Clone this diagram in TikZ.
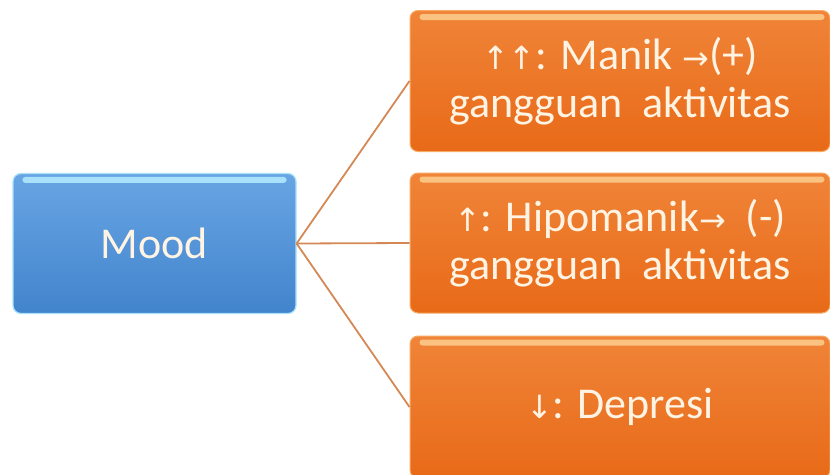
\documentclass[tikz,border=0pt]{standalone}
\usepackage{fontspec}
\setmainfont{Carlito}
\newfontfamily\arrowfont{DejaVu Sans}
\definecolor{bluetop}{RGB}{104,165,228}
\definecolor{bluebot}{RGB}{66,132,204}
\definecolor{blueshine}{RGB}{170,225,250}
\definecolor{orgtop}{RGB}{240,132,56}
\definecolor{orgbot}{RGB}{232,106,24}
\definecolor{orgshine}{RGB}{250,195,130}
\definecolor{linkcol}{RGB}{212,136,86}
\definecolor{txtcol}{RGB}{255,244,228}
\newcommand{\arr}[1]{{\arrowfont\fontsize{32}{32}\selectfont #1}}
\begin{document}
\begin{tikzpicture}[x=1pt,y=1pt,
  box/.style={rounded corners=8pt, inner sep=0pt},
  bluebox/.style={box, top color=bluetop, bottom color=bluebot, draw=blueshine, line width=1.2pt},
  orgbox/.style={box, top color=orgtop, bottom color=orgbot, draw=orgshine!60!orgtop, line width=1pt},
  label/.style={text=txtcol, align=center, font=\fontsize{44}{48}\selectfont},
  link/.style={draw=linkcol, line width=1.8pt}]
\useasboundingbox (0,0) rectangle (830,-474);
\clip (0,0) rectangle (830,-474);
% central node
\node[bluebox, minimum width=283, minimum height=140] (mood) at (154.5,-243.5) {};
% three outcomes
\node[orgbox, minimum width=420, minimum height=141] (manik) at (620,-81) {};
\node[orgbox, minimum width=420, minimum height=140] (hipo) at (620,-243) {};
\node[orgbox, minimum width=420, minimum height=142] (depresi) at (620,-407) {};
% top shine strips
\foreach \b in {manik,hipo,depresi}{
  \fill[orgshine, rounded corners=3pt] ([xshift=10pt,yshift=-4pt]\b.north west) rectangle ([xshift=-6pt,yshift=-10pt]\b.north east);
}
\fill[blueshine, rounded corners=3pt] ([xshift=10pt,yshift=-4pt]mood.north west) rectangle ([xshift=-10pt,yshift=-10pt]mood.north east);
% texts
\node[label] (t0) at (mood.center) {Mood};
\node[label] (t1) at (manik.center) {\arr{↑↑}: Manik \arr{→}(+)\\gangguan\ \ aktivitas};
\node[label] (t2) at (hipo.center) {\arr{↑}: Hipomanik\arr{→}\ \ (-)\\gangguan\ \ aktivitas};
\node[label] (t3) at (depresi.center) {\arr{↓}: Depresi};
% connectors
\draw[link] (mood.east) -- (manik.west);
\draw[link] (mood.east) -- (hipo.west);
\draw[link] (mood.east) -- (depresi.west);
\end{tikzpicture}
\end{document}
